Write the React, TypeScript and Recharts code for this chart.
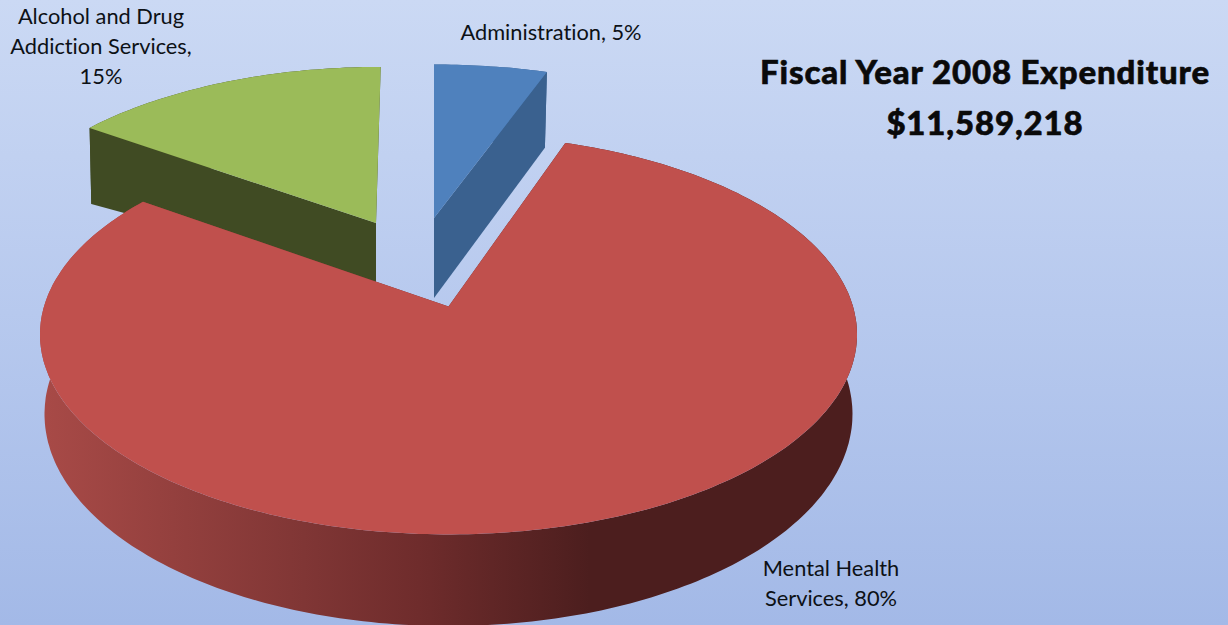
import { Pie, PieChart } from "recharts";

const categories = ["Alcohol and Drug Addiction Services", "Administration", "Mental Health Services"];
const shares = [15.2, 5.3, 79.5];

const labelLines = [
  ["Alcohol and Drug", "Addiction Services,", "{p}"],
  ["Administration, {p}"],
  ["Mental Health", "Services, {p}"],
];

const titleLines = ["Fiscal Year 2008 Expenditure", "$11,589,218"];

const W = 1228;
const H = 625;
const K = 0.14; // foreshortening of the far side of the pie

type Disc = { ox: number; oy: number; rx: number; ry: number; shear?: number };

// top and bottom discs of each exploded slice, same order as categories
const SLICES: { top: Disc; bottom: Disc; face: string; wall: string }[] = [
  {
    top: { ox: 376, oy: 223, rx: 383, ry: 178, shear: 0.03 },
    bottom: { ox: 376, oy: 282, rx: 377, ry: 146 },
    face: "#9bbb59",
    wall: "#404b23",
  },
  {
    top: { ox: 434, oy: 218, rx: 391, ry: 175 },
    bottom: { ox: 434, oy: 298, rx: 384, ry: 180 },
    face: "#4f81bd",
    wall: "#3a618f",
  },
  {
    top: { ox: 448.5, oy: 306.5, rx: 404.5, ry: 196 },
    bottom: { ox: 448.5, oy: 384.4, rx: 400, ry: 207.8 },
    face: "#c0504d",
    wall: "url(#redWall)",
  },
];

const LABEL_POS = [
  { x: 101, y: 24 },
  { x: 551, y: 40 },
  { x: 831, y: 576 },
];
const LINE_H = 30;

function project(d: Disc, deg: number, r = 1) {
  const a = (deg * Math.PI) / 180;
  const u = Math.cos(a) * r;
  const v = Math.sin(a) * r;
  const s = 1 / (1 + K * v);
  const up = d.ry * v * s;
  return [d.ox + d.rx * u * s + (d.shear ?? 0) * up, d.oy - up];
}

function arcPoints(d: Disc, from: number, to: number) {
  const n = Math.max(2, Math.ceil(Math.abs(to - from)));
  return Array.from({ length: n + 1 }, (_, i) => project(d, from + ((to - from) * i) / n));
}

const toPath = (pts: number[][]) =>
  "M" + pts.map((p) => `${p[0].toFixed(1)},${p[1].toFixed(1)}`).join("L") + "Z";

function Slice3D(props: any) {
  const { startAngle, endAngle, name } = props;
  const idx = categories.indexOf(name);
  const { top, bottom, face, wall } = SLICES[idx];
  const rim = arcPoints(top, startAngle, endAngle);
  const low = arcPoints(bottom, startAngle, endAngle);
  const apexT = project(top, 0, 0);
  const apexB = project(bottom, 0, 0);
  return (
    <g>
      <path d={toPath([...rim, ...[...low].reverse()])} fill={wall} />
      <path d={toPath([apexT, rim[0], low[0], apexB])} fill={wall} />
      <path d={toPath([apexT, rim[rim.length - 1], low[low.length - 1], apexB])} fill={wall} />
      <path d={toPath([apexT, ...rim])} fill={face} />
    </g>
  );
}

function SliceLabel(props: any) {
  const idx = categories.indexOf(props.name);
  const pos = LABEL_POS[idx];
  const pct = `${Math.round(shares[idx])}%`;
  return (
    <text
      x={pos.x}
      y={pos.y}
      textAnchor="middle"
      fontFamily="Lato"
      fontSize={21.8}
      fill="#0d1116"
      style={{ fontVariantLigatures: "none" }}
    >
      {labelLines[idx].map((line, i) => (
        <tspan key={i} x={pos.x} y={pos.y + i * LINE_H}>
          {line.replace("{p}", pct)}
        </tspan>
      ))}
    </text>
  );
}

const data = categories.map((name, i) => ({ name, value: shares[i] }));
const total = shares.reduce((a, b) => a + b, 0);
const START = 90 + (shares[0] / total) * 360;

export default function App() {
  return (
    <div
      style={{
        position: "absolute",
        left: 0,
        top: 0,
        width: W,
        height: H,
        overflow: "hidden",
        background: "linear-gradient(180deg, #cbd9f4 0%, #b7c9ee 50%, #a3b9e7 100%)",
      }}
    >
      <PieChart width={W} height={H} margin={{ top: 0, right: 0, bottom: 0, left: 0 }}>
        <defs>
          <linearGradient id="redWall" gradientUnits="userSpaceOnUse" x1="42" y1="0" x2="860" y2="0">
            <stop offset="0%" stopColor="#a84a47" />
            <stop offset="32%" stopColor="#803635" />
            <stop offset="46%" stopColor="#6f2c2c" />
            <stop offset="67%" stopColor="#4c1e1e" />
            <stop offset="100%" stopColor="#4c1e1e" />
          </linearGradient>
        </defs>
        <Pie
          data={data}
          dataKey="value"
          nameKey="name"
          cx={448}
          cy={306}
          outerRadius={200}
          startAngle={START}
          endAngle={START - 360}
          paddingAngle={0}
          stroke="none"
          shape={Slice3D}
          label={SliceLabel}
          labelLine={false}
          isAnimationActive={false}
        />
      </PieChart>
      {titleLines.map((t, i) => (
        <div
          key={t}
          style={{
            position: "absolute",
            left: 745,
            width: 480,
            top: 51 + i * 51,
            textAlign: "center",
            fontFamily: "Lato",
            fontWeight: 900,
            fontSize: 33,
            lineHeight: "40px",
            letterSpacing: 0.85,
            WebkitTextStroke: "0.6px #0a0a0a",
            color: "#0a0a0a",
            whiteSpace: "nowrap",
          }}
        >
          {t}
        </div>
      ))}
    </div>
  );
}
